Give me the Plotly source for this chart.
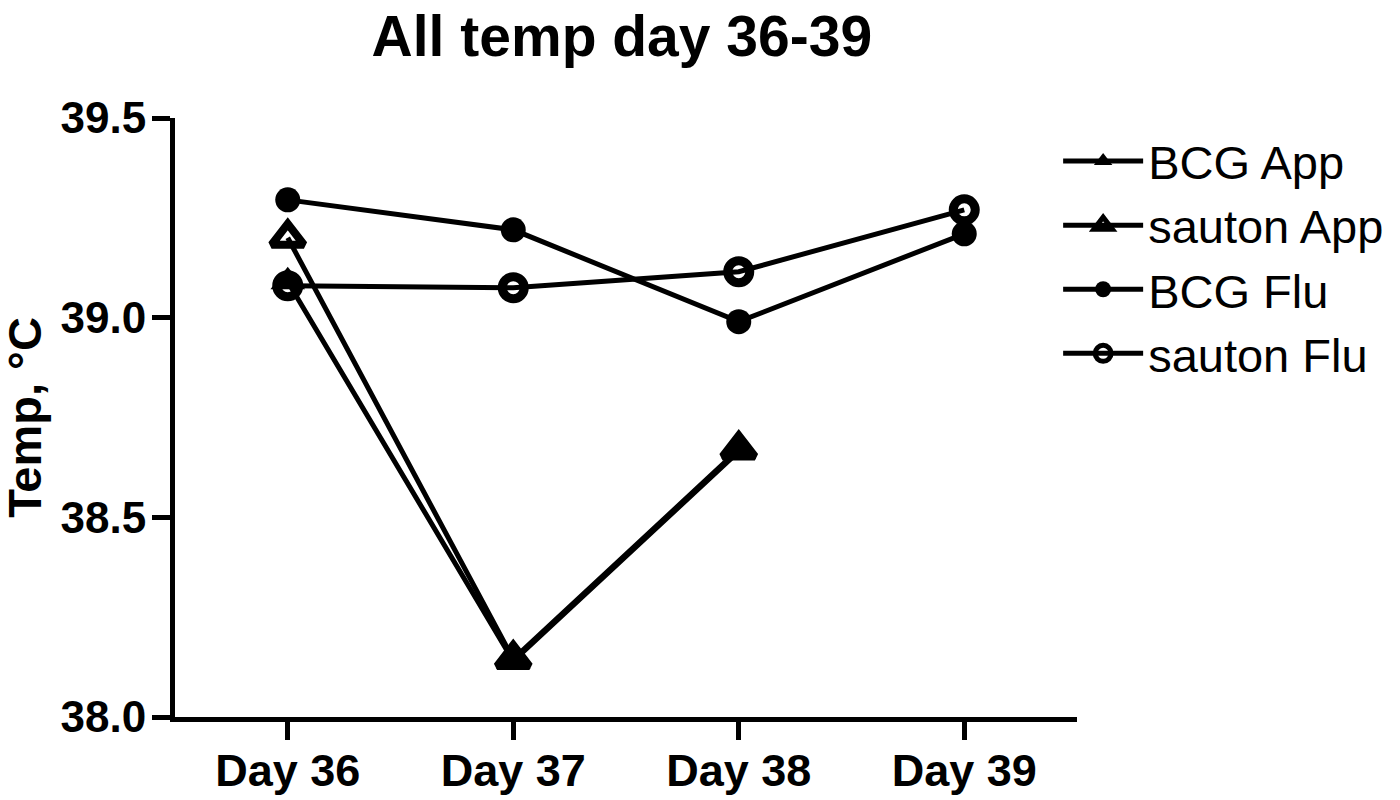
import plotly.graph_objects as go

days = ["Day 36", "Day 37", "Day 38", "Day 39"]
bcg_app = [39.09, 38.14, 38.665, None]
sauton_app = [39.20, 38.145, 38.67, None]
bcg_flu = [39.295, 39.22, 38.99, 39.21]
sauton_flu = [39.08, 39.075, 39.115, 39.27]

font = "Liberation Sans, Arial, sans-serif"
fig = go.Figure()

# series: name, values, marker symbol, marker size, marker line width
series = [
    ("BCG App", bcg_app, "triangle-up", 30, 0),
    ("sauton App", sauton_app, "triangle-up-open", 28, 8),
    ("BCG Flu", bcg_flu, "circle", 25, 0),
    ("sauton Flu", sauton_flu, "circle-open", 22, 9),
]
for name, vals, sym, size, lw in series:
    fig.add_trace(go.Scatter(
        x=days, y=vals, name=name, mode="lines+markers",
        line=dict(color="black", width=5),
        marker=dict(symbol=sym, size=size, color="black",
                    line=dict(color="black", width=lw)),
        connectgaps=False,
    ))

# page body has an 8px margin, so the figure is sized to fit the window
fig.update_layout(
    width=1392, height=792,
    paper_bgcolor="white", plot_bgcolor="white",
    margin=dict(l=167, r=322, t=110, b=83),
    font=dict(family=font, color="black"),
    title=dict(text="<b>All temp day 36-39</b>", x=0.441, xanchor="center",
               y=0.964, yanchor="middle", font=dict(size=57)),
    legend=dict(x=0.978, xanchor="left", y=0.99, yanchor="top",
                font=dict(size=47), itemwidth=80,
                bgcolor="rgba(0,0,0,0)"),
)
fig.add_annotation(
    text="<b>Temp, °C</b>", textangle=-90, xref="paper", yref="paper",
    x=-0.167, y=0.5, xanchor="center", yanchor="middle",
    showarrow=False, font=dict(size=47),
)
fig.update_xaxes(
    type="category", range=[-0.5, 3.5], automargin=False,
    showline=True, linecolor="black", linewidth=5,
    ticks="outside", ticklen=18, tickwidth=5, tickcolor="black",
    tickfont=dict(size=45, family=font), showgrid=False, zeroline=False,
    tickprefix="<b>", ticksuffix="</b>", ticklabelstandoff=-8,
)
fig.update_yaxes(
    range=[38, 39.5], dtick=0.5, tickformat=".1f", automargin=False,
    showline=True, linecolor="black", linewidth=5,
    ticks="outside", ticklen=18, tickwidth=5, tickcolor="black",
    tickfont=dict(size=44, family=font), showgrid=False, zeroline=False,
    tickprefix="<b>", ticksuffix="</b>", ticklabelstandoff=-3,
)

fig.write_html("out.html")
